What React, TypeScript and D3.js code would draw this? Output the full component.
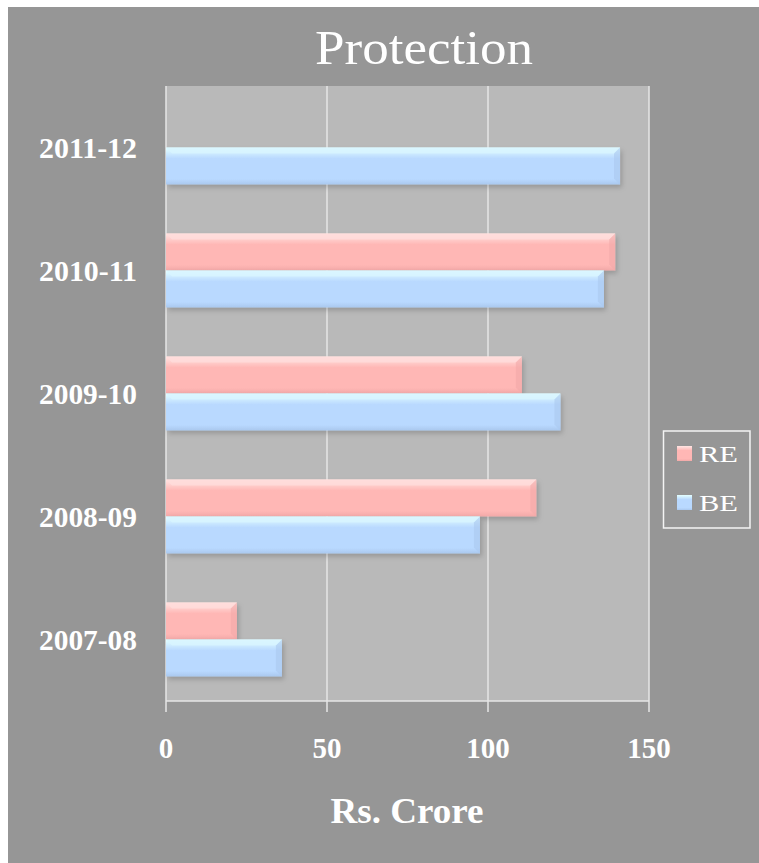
import React from "react";
import * as d3 from "d3";

const categories = ["2007-08", "2008-09", "2009-10", "2010-11", "2011-12"];
const seriesNames = ["RE", "BE"];
const reValues: (number | null)[] = [22, 115, 110.5, 139.5, null];
const beValues: (number | null)[] = [36, 97.5, 122.5, 136, 141];
const xTicks = [0, 50, 100, 150];
const title = "Protection";
const xTitle = "Rs. Crore";

const W = 759;
const H = 863;
const plot = { left: 166, right: 649, top: 86, bottom: 701 };
const FONT = "'Liberation Serif', 'Times New Roman', serif";

const palette: Record<string, { top: string; mid: string; bot: string; hi: string }> = {
  RE: { top: "#ffe6e4", mid: "#ffb7b5", bot: "#f2a9a8", hi: "#ffdcdb" },
  BE: { top: "#e4ffff", mid: "#b9d9ff", bot: "#aac8ee", hi: "#d8f4ff" },
};

export default function App() {
  const x = d3.scaleLinear().domain([0, 150]).range([plot.left, plot.right]);
  const y = d3
    .scaleBand<string>()
    .domain(categories)
    .range([plot.bottom, plot.top])
    .paddingInner(0.398)
    .paddingOuter(0.199);
  const sub = d3.scaleBand<string>().domain(seriesNames).range([0, y.bandwidth()]);

  const rows = categories.map((c, i) => ({ c, RE: reValues[i], BE: beValues[i] }));

  const bar = (key: string, cat: string, v: number | null) => {
    if (v == null) return null;
    const by = (y(cat) as number) + (sub(key) as number);
    const bh = sub.bandwidth();
    const x0 = x(0);
    const x1 = x(v);
    const bv = 6;
    const p = palette[key];
    return (
      <g key={key + cat}>
        <rect x={x0} y={by} width={x1 - x0} height={bh} fill={`url(#grad${key})`} filter="url(#shadow)" />
        <polygon
          points={`${x0},${by} ${x1},${by} ${x1 - bv},${by + bv} ${x0 + bv},${by + bv}`}
          fill={p.hi}
          opacity={0.85}
        />
        <polygon
          points={`${x1},${by} ${x1},${by + bh} ${x1 - bv},${by + bh - bv} ${x1 - bv},${by + bv}`}
          fill={p.bot}
          opacity={0.6}
        />
      </g>
    );
  };

  return (
    <svg
      width={W}
      height={H}
      style={{ position: "absolute", left: 0, top: 0, display: "block" }}
    >
      <defs>
        {seriesNames.map((k) => (
          <linearGradient key={k} id={`grad${k}`} x1="0" y1="0" x2="0" y2="1">
            <stop offset="0" stopColor={palette[k].top} />
            <stop offset="0.3" stopColor={palette[k].mid} />
            <stop offset="0.85" stopColor={palette[k].mid} />
            <stop offset="1" stopColor={palette[k].bot} />
          </linearGradient>
        ))}
        <filter id="shadow" x="-5%" y="-30%" width="115%" height="180%">
          <feDropShadow dx="2" dy="3" stdDeviation="2.5" floodColor="#000" floodOpacity="0.18" />
        </filter>
      </defs>
      <rect x={0} y={0} width={W} height={H} fill="#ffffff" />
      <rect x={8} y={7} width={W - 8} height={H - 7} fill="#969696" />
      <rect
        x={plot.left}
        y={plot.top}
        width={plot.right - plot.left}
        height={plot.bottom - plot.top}
        fill="#b9b9b9"
      />
      {xTicks.map((t) => (
        <line
          key={"g" + t}
          x1={x(t)}
          x2={x(t)}
          y1={plot.top}
          y2={plot.bottom + 11}
          stroke="#e6e6e6"
          strokeWidth={1.5}
        />
      ))}
      <line x1={plot.left} x2={plot.right} y1={plot.bottom} y2={plot.bottom} stroke="#e6e6e6" strokeWidth={1.5} />
      {rows.map((r) => (
        <g key={r.c}>
          {bar("RE", r.c, r.RE)}
          {bar("BE", r.c, r.BE)}
        </g>
      ))}
      {categories.map((c) => (
        <text
          key={"l" + c}
          x={137}
          y={(y(c) as number) + y.bandwidth() / 2}
          dy="0.35em"
          textAnchor="end"
          fontFamily={FONT}
          fontWeight="bold"
          fontSize={29}
          fill="#ffffff"
          textLength={98}
          lengthAdjust="spacingAndGlyphs"
        >
          {c}
        </text>
      ))}
      {xTicks.map((t) => (
        <text
          key={"t" + t}
          x={x(t)}
          y={758}
          textAnchor="middle"
          fontFamily={FONT}
          fontWeight="bold"
          fontSize={29}
          fill="#ffffff"
          textLength={String(t).length * 14.5}
          lengthAdjust="spacingAndGlyphs"
        >
          {t}
        </text>
      ))}
      <text
        x={424}
        y={64}
        textAnchor="middle"
        fontFamily={FONT}
        fontSize={48}
        fill="#ffffff"
        textLength={218}
        lengthAdjust="spacingAndGlyphs"
      >
        {title}
      </text>
      <text
        x={407}
        y={823}
        textAnchor="middle"
        fontFamily={FONT}
        fontWeight="bold"
        fontSize={36}
        fill="#ffffff"
        textLength={153}
        lengthAdjust="spacingAndGlyphs"
      >
        {xTitle}
      </text>
      <rect x={663.5} y={431} width={86.5} height={97} fill="none" stroke="#f4f4f4" strokeWidth={1.5} />
      {seriesNames.map((k, i) => {
        const ly = 446 + i * 49;
        return (
          <g key={"lg" + k}>
            <rect x={677} y={ly} width={15} height={15} fill={`url(#grad${k})`} />
            <text
              x={699}
              y={ly + 16}
              fontFamily={FONT}
              fontSize={23}
              fill="#ffffff"
              textLength={39}
              lengthAdjust="spacingAndGlyphs"
            >
              {k}
            </text>
          </g>
        );
      })}
    </svg>
  );
}
